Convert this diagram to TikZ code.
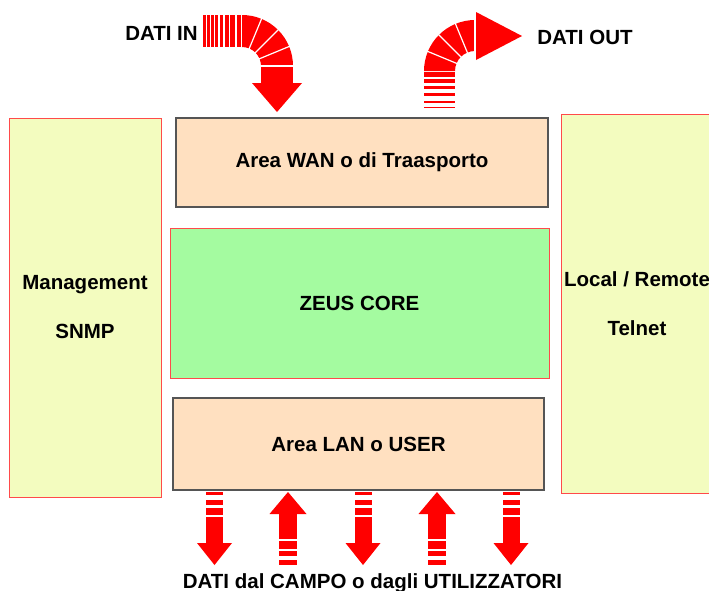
\documentclass[tikz,border=0pt]{standalone}
\usepackage{fontspec}
\setmainfont{Liberation Sans}
\usepackage{xcolor}
\usetikzlibrary{positioning}

\definecolor{peach}{HTML}{FFE0C0}
\definecolor{sidefill}{HTML}{F3FCBF}
\definecolor{corefill}{HTML}{A4FBA0}
\definecolor{edgered}{HTML}{FF4A4A}
\definecolor{boxgray}{HTML}{555555}

\begin{document}
\begin{tikzpicture}[x=1pt, y=-1pt,
  every node/.style={font=\fontsize{20.5}{49}\selectfont\bfseries, align=center},
  area/.style={draw=boxgray, line width=1.2pt, fill=peach},
  side/.style={draw=edgered, line width=0.8pt, fill=sidefill, inner sep=0pt,
               minimum width=152pt, minimum height=379pt},
  cut/.style={draw=white, line width=1.2pt}
]
  \useasboundingbox (0,0) rectangle (709,590);

  % side panels
  \node[side] (mgmt) at (85,307.5) {Management\\SNMP};
  \node[side] (remote) at (637,303.5) {Local / Remote\\Telnet};

  % central stack
  \node[area, minimum width=372pt, minimum height=89pt] (wan) at (362,162.5) {Area WAN o di Traasporto};
  \node[draw=edgered, line width=0.8pt, fill=corefill, minimum width=379pt,
        minimum height=150pt] (core) at (359.5,303) {ZEUS CORE};
  \node[area, minimum width=371pt, minimum height=92pt] (lan) at (358.5,444) {Area LAN o USER};

  % labels
  \node (din) at (161.5,33) {DATI IN};
  \node (dout) at (585,37) {DATI OUT};
  \node[anchor=base] (campo) at (372.5,588) {DATI dal CAMPO o dagli UTILIZZATORI};

  % DATI IN arrow
  \foreach \a/\b in {203/205.5, 207/209.5, 211/213.5, 215/218, 220/223, 225/228.5, 230/235, 236.5/241}
    \fill[red] (\a,15) rectangle (\b,47);
  \foreach \ang in {270,292.5,315,337.5}
    \fill[red] (242,66) ++(\ang:51) arc[start angle=\ang, delta angle=22.5, radius=51]
      -- ++(\ang+22.5:-32) arc[start angle=\ang+22.5, delta angle=-22.5, radius=19] -- cycle;
  \fill[red] (261,66) rectangle (293,83);
  \fill[red] (252,83) -- (302,83) -- (277,112) -- cycle;
  \foreach \ang in {292.5,315,337.5,360}
    \draw[cut] (242,66) ++(\ang:18) -- ++(\ang:34);

  % DATI OUT arrow
  \foreach \a/\b in {72/77, 79/82.5, 85.7/89, 93.3/96, 100.7/102.7, 106.7/108.3}
    \fill[red] (424,\a) rectangle (455,\b);
  \foreach \ang in {180,202.5,225,247.5}
    \fill[red] (475,71) ++(\ang:51) arc[start angle=\ang, delta angle=22.5, radius=51]
      -- ++(\ang+22.5:-31) arc[start angle=\ang+22.5, delta angle=-22.5, radius=20] -- cycle;
  \fill[red] (476,12) -- (476,60) -- (522,36) -- cycle;
  \foreach \ang in {202.5,225,247.5,270}
    \draw[cut] (475,71) ++(\ang:19) -- ++(\ang:33);

  % field arrows, down
  \foreach \cx in {214.5,363,511} {
    \foreach \a/\b in {492/494.7, 500.3/504.7, 508/515.3}
      \fill[red] (\cx-8.5,\a) rectangle (\cx+8.5,\b);
    \fill[red] (\cx-8.5,517.3) rectangle (\cx+8.5,543.5);
    \fill[red] (\cx-17.5,543) -- (\cx+17.5,543) -- (\cx,565) -- cycle;
  }
  % field arrows, up
  \foreach \cx in {288,437} {
    \fill[red] (\cx,492) -- (\cx+18.5,514) -- (\cx-18.5,514) -- cycle;
    \fill[red] (\cx-9,513.5) rectangle (\cx+9,539);
    \foreach \a/\b in {540.7/548.7, 551.3/556.3, 559.7/565.3}
      \fill[red] (\cx-9,\a) rectangle (\cx+9,\b);
  }
\end{tikzpicture}
\end{document}
